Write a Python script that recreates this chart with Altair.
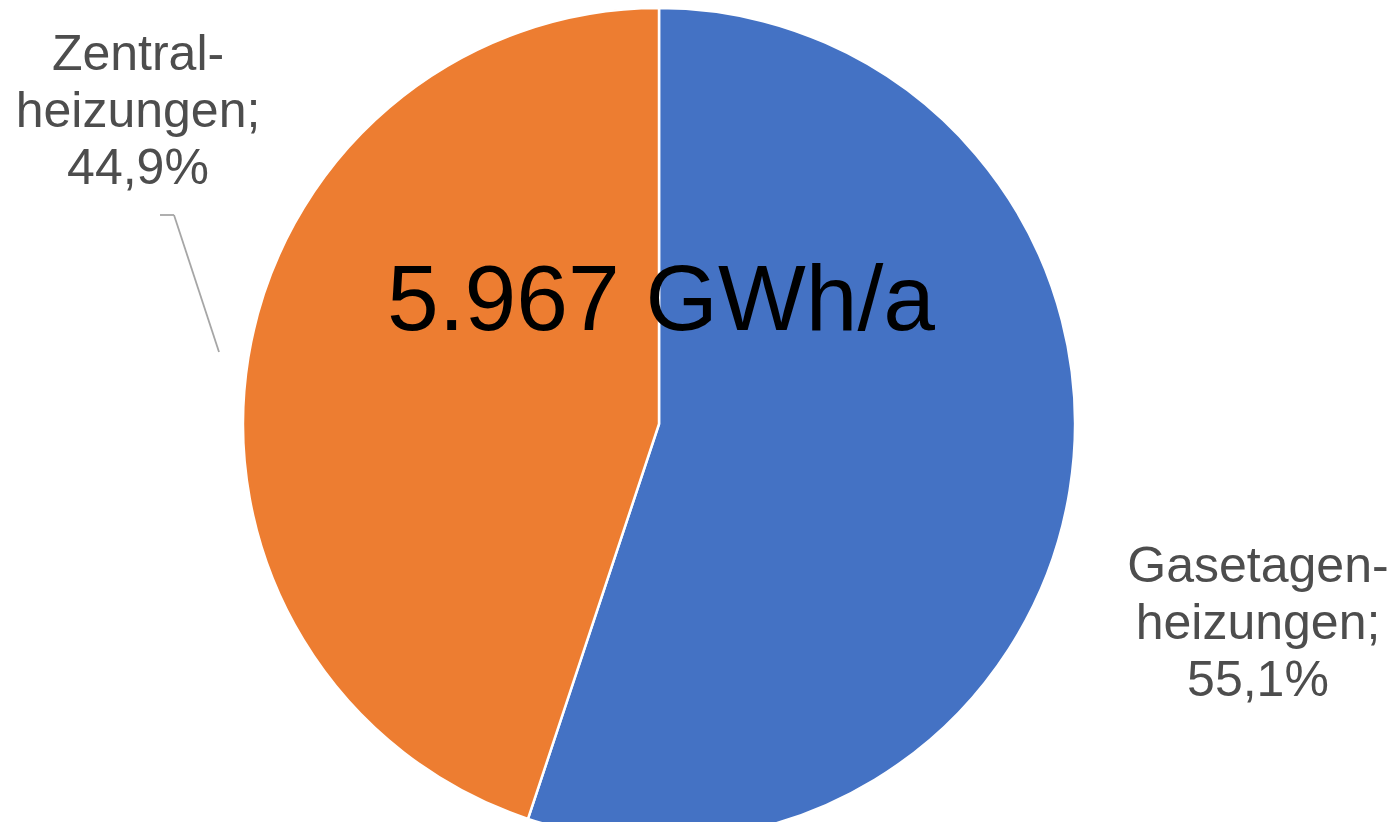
import altair as alt
import pandas as pd

categories = ["Gasetagenheizungen", "Zentralheizungen"]
shares = [55.1, 44.9]
label_lines = [["Gasetagen-", "heizungen;", "55,1%"], ["Zentral-", "heizungen;", "44,9%"]]
colors = ["#4472C4", "#ED7D31"]
total_text = "5.967 GWh/a"

df = pd.DataFrame({"category": categories, "share": shares, "order": [0, 1]})

CX, CY, R = 651, 416, 416

pie = alt.Chart(df).mark_arc(radius=R, stroke="white", strokeWidth=2.5).encode(
    theta=alt.Theta("share:Q", stack=True),
    order=alt.Order("order:Q"),
    color=alt.Color("category:N", scale=alt.Scale(domain=categories, range=colors), legend=None),
    x=alt.value(CX),
    y=alt.value(CY),
)

base = alt.Chart(pd.DataFrame({"a": [0]}))

font = "Liberation Sans"
lab_style = dict(font=font, fontSize=50, color="#4d4d4d", align="center",
                 baseline="alphabetic", lineHeight=57)

lab_gas = base.mark_text(**lab_style).encode(
    x=alt.value(1250), y=alt.value(574), text=alt.value(label_lines[0]))
lab_zen = base.mark_text(**lab_style).encode(
    x=alt.value(130), y=alt.value(62), text=alt.value(label_lines[1]))

lead1 = base.mark_rule(color="#a6a6a6", strokeWidth=1.8).encode(
    x=alt.value(152), x2=alt.value(166), y=alt.value(207), y2=alt.value(207))
lead2 = base.mark_rule(color="#a6a6a6", strokeWidth=1.8).encode(
    x=alt.value(166), x2=alt.value(211), y=alt.value(207), y2=alt.value(344))

center = base.mark_text(font=font, fontSize=93, color="#000000", align="center",
                        baseline="alphabetic").encode(
    x=alt.value(653), y=alt.value(322), text=alt.value(total_text))

chart = alt.layer(pie, lead1, lead2, lab_gas, lab_zen, center).properties(
    width=1383, height=814, padding=0, autosize=alt.AutoSizeParams(type="none")
).configure(background="white").configure_view(stroke=None, strokeWidth=0)

chart.save("out.html", embed_options={"renderer": "svg", "actions": False})
